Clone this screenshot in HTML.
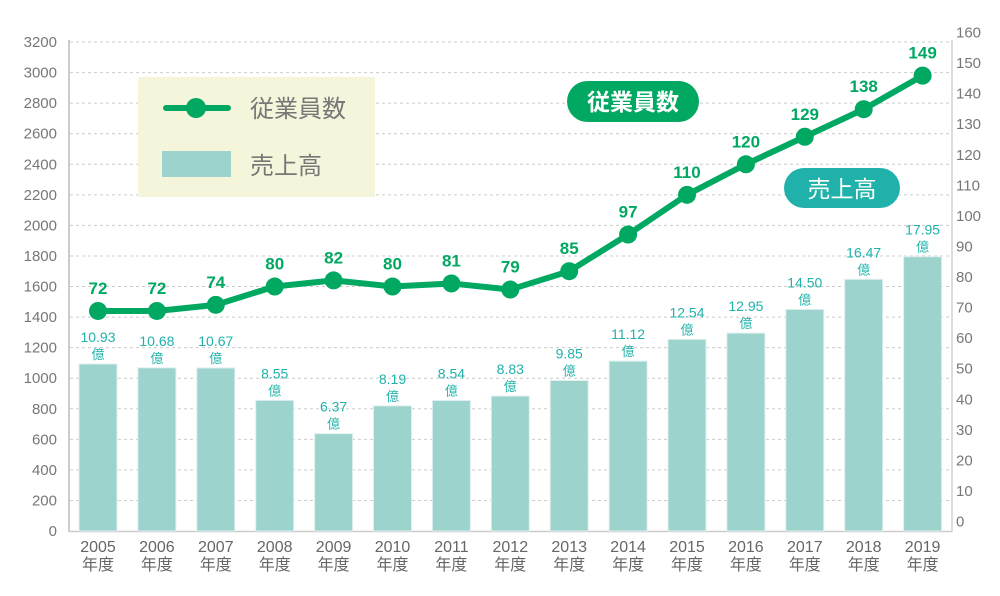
<!DOCTYPE html>
<html><head><meta charset="utf-8"><style>
html,body{margin:0;padding:0;background:#fff;}
svg{display:block;font-family:"Liberation Sans","Noto Sans CJK JP",sans-serif;}
</style></head><body>
<svg width="1000" height="596" viewBox="0 0 1000 596">
<g id="grid" stroke="#ccc" stroke-dasharray="3,3" stroke-width="1"></g>
<line x1="69" y1="40" x2="69" y2="532" stroke="#ccc" stroke-width="2"/>
<line x1="952" y1="40" x2="952" y2="532" stroke="#ddd" stroke-width="2"/>
<line x1="69" y1="531.5" x2="952" y2="531.5" stroke="#ccc" stroke-width="1.5"/>
<g id="left" font-size="15" fill="#777" text-anchor="end"></g>
<g id="right" font-size="15" fill="#777"></g>
<g id="bars"></g>
<g id="years" font-size="16" fill="#666" text-anchor="middle"></g>
<polyline id="line" fill="none" stroke="#00a862" stroke-width="6" stroke-linejoin="round"/>
<g id="pts" fill="#00a862"></g>
<g id="elab" font-size="17" font-weight="bold" fill="#00a862" text-anchor="middle"></g>
<rect x="138" y="77" width="237" height="120" fill="#f5f5dc"/>
<line x1="166" y1="108" x2="228" y2="108" stroke="#00a862" stroke-width="6" stroke-linecap="round"/>
<circle cx="196" cy="108" r="10" fill="#00a862"/>
<rect x="162" y="151" width="69" height="26" fill="#9cd3cc"/>
<text x="250" y="117" font-size="24" fill="#777">従業員数</text>
<text x="250" y="174" font-size="24" fill="#777">売上高</text>
<rect x="567" y="81" width="132" height="41" rx="20.5" fill="#00a862"/>
<text x="633" y="110" font-size="23" font-weight="bold" fill="#fff" text-anchor="middle">従業員数</text>
<rect x="784" y="168" width="116" height="40" rx="20" fill="#20b2aa"/>
<text x="842" y="197" font-size="23" fill="#fff" text-anchor="middle">売上高</text>
<script>
const ns="http://www.w3.org/2000/svg";
function el(p,t,a,txt){const e=document.createElementNS(ns,t);for(const k in a)e.setAttribute(k,a[k]);if(txt!==undefined)e.textContent=txt;document.getElementById(p).appendChild(e);return e;}
const Y=v=>531-v*0.15281;
for(let i=0;i<=16;i++){const v=i*200,y=Y(v);if(i>0)el("grid","line",{x1:70,x2:950,y1:y,y2:y});el("left","text",{x:57,y:y+5},String(v));
 el("right","text",{x:956,y:Y(i*200)-4.5},String(i*10));}
const sales=[10.93,10.68,10.67,8.55,6.37,8.19,8.54,8.83,9.85,11.12,12.54,12.95,14.50,16.47,17.95];
const emp=[72,72,74,80,82,80,81,79,85,97,110,120,129,138,149];
let pts=[];
sales.forEach((s,i)=>{const c=98+i*58.9,t=Y(s*100);
 el("bars","rect",{x:c-19,y:t,width:38,height:531-t,fill:"#9cd3cc",stroke:"#e0f0ee","stroke-width":1});
 el("bars","text",{x:c,y:t-22,"font-size":14,fill:"#20b2aa","text-anchor":"middle"},s.toFixed(2));
 el("bars","text",{x:c,y:t-5,"font-size":13,fill:"#20b2aa","text-anchor":"middle"},"億");
 el("years","text",{x:c,y:552},String(2005+i));
 el("years","text",{x:c,y:570},"年度");
 const ey=Y(emp[i]*20);pts.push(c+","+ey);
 el("pts","circle",{cx:c,cy:ey,r:9});
 el("elab","text",{x:c,y:ey-17},String(emp[i]));
});
document.getElementById("line").setAttribute("points",pts.join(" "));
</script>
</svg>
</body></html>
